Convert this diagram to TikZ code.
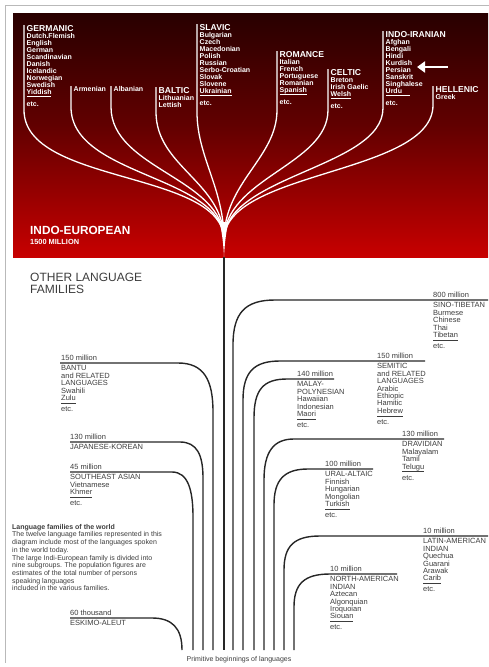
\documentclass[tikz,border=0pt]{standalone}
\usepackage{fontspec}
\setmainfont{Liberation Sans}
\usepackage{tikz}
\usetikzlibrary{arrows.meta}

\definecolor{panelred}{RGB}{232,0,0}
\definecolor{inkgray}{RGB}{60,60,60}
\pgfdeclareverticalshading{iepanel}{100bp}{color(0bp)=(panelred); color(25bp)=(panelred!86!black); color(52bp)=(panelred!42!black); color(78bp)=(panelred!14!black); color(93bp)=(black); color(100bp)=(black)}

\newcommand{\ietitle}{\fontsize{8.6}{8.6}\selectfont}
\newcommand{\dotul}[1]{\setbox0=\hbox{#1}\leavevmode\rlap{\raisebox{-2.6pt}{\hbox to \wd0{\leaders\hbox to 0.9pt{\hss\rule{0.45pt}{0.4pt}\hss}\hfill}}}\box0}

\begin{document}
\begin{tikzpicture}[x=1pt, y=-1pt,
	ie/.style={anchor=north west, inner xsep=2.5pt, inner ysep=0pt, text=white, align=left, font=\bfseries\fontsize{7}{7}\selectfont},
	branch/.style={white, line width=1.3pt},
	fam/.style={anchor=north west, inner sep=0pt, text=inkgray, align=left, font=\fontsize{7.5}{7.4}\selectfont},
	amount/.style={anchor=south west, inner sep=0pt, text=inkgray, font=\fontsize{7.5}{7.5}\selectfont},
	famline/.style={draw=black!85, line width=1.4pt}]
	\useasboundingbox (0,0) rectangle (489,667);
	\draw[gray!55, line width=0.8pt] (489,5.5) -- (5.5,5.5) -- (5.5,663);
	\shade[shading=iepanel] (13,13) rectangle (488,257);

	% indo-european
	\node[ie] (germanic) at (24,25) {{\ietitle GERMANIC}\\Dutch.Flemish\\English\\German\\Scandinavian\\Danish\\Icelandic\\Norwegian\\Swedish\\\dotul{Yiddish}\\[4pt]etc.};
	\node[ie] (armenian) at (71,86) {Armenian};
	\node[ie] (albanian) at (111,86) {Albanian};
	\node[ie] (baltic) at (156,87) {{\ietitle BALTIC}\\Lithuanian\\Lettish};
	\node[ie] (slavic) at (197,24) {{\ietitle SLAVIC}\\Bulgarian\\Czech\\Macedonian\\Polish\\Russian\\Serbo-Croatian\\Slovak\\Slovene\\\dotul{Ukrainian}\\[4pt]etc.};
	\node[ie] (romance) at (277,51) {{\ietitle ROMANCE}\\Italian\\French\\Portuguese\\Romanian\\\dotul{Spanish}\\[4pt]etc.};
	\node[ie] (celtic) at (328,69) {{\ietitle CELTIC}\\Breton\\Irish Gaelic\\\dotul{Welsh}\\[4pt]etc.};
	\node[ie] (indoiranian) at (383,31) {{\ietitle INDO-IRANIAN}\\Afghan\\Bengali\\Hindi\\Kurdish\\Persian\\Sanskrit\\Singhalese\\\dotul{Urdu\hspace{8pt}}\\[4pt]etc.};
	\node[ie] (hellenic) at (433,86) {{\ietitle HELLENIC}\\Greek};
	\coordinate (trunk) at (224,240);
	\foreach \n/\len/\ca/\cb in {germanic/85/75/70, armenian/21/70/65, albanian/21/62/62, baltic/25/55/58, slavic/88/45/52, romance/59/48/58, celtic/41/55/62, indoiranian/77/60/65, hellenic/19/70/70}
		\draw[branch] (\n.north west) -- ++(0,\len) .. controls +(0,\ca) and +(0,-\cb) .. (trunk);
	\fill[white] (219.5,222) .. controls (222,232) and (223.5,245) .. (224,257) .. controls (224.5,245) and (226,232) .. (228.5,222) -- cycle;
	\coordinate (arrowtail) at (448,67);
	\coordinate (arrowhead) at (417,67);
	\draw[white, line width=2.6pt, -{Triangle[length=8pt,width=11pt]}] (arrowtail) -- (arrowhead);
	\node[anchor=north west, inner sep=0pt, text=white, align=left, font=\bfseries\fontsize{11.8}{10}\selectfont] (indoeuropean) at (30,226) {INDO-EUROPEAN\\{\fontsize{7.4}{7.4}\selectfont 1500 MILLION}};

	% other families
	\node[anchor=north west, inner sep=0pt, text=inkgray, align=left, font=\fontsize{12}{11.6}\selectfont] (others) at (30,273) {OTHER LANGUAGE\\FAMILIES};
	\coordinate (ieroot) at (224,257);
	\coordinate (ieend) at (224,650);
	\draw[famline] (ieroot) -- (ieend);

	\coordinate (rootst) at (233,650);
	\coordinate (endst) at (488,300);
	\draw[famline] (rootst) -- (233,345) .. controls (233,313) and (245,300) .. (275,300) -- (endst);
	\node[amount] (amtst) at (433,297.5) {800 million};
	\node[fam] (st) at (433,302.5) {SINO-TIBETAN\\Burmese\\Chinese\\Thai\\\dotul{Tibetan}\\[2.5pt]etc.};

	\coordinate (rootse) at (243,650);
	\coordinate (endse) at (425,361);
	\draw[famline] (rootse) -- (243,400) .. controls (243,372) and (254,361) .. (280,361) -- (endse);
	\node[amount] (amtse) at (377,358.5) {150 million};
	\node[fam] (se) at (377,363.5) {SEMITIC\\and RELATED\\LANGUAGES\\Arabic\\Ethiopic\\Hamitic\\\dotul{Hebrew}\\[2.5pt]etc.};

	\coordinate (rootmp) at (254,650);
	\coordinate (endmp) at (334,379);
	\draw[famline] (rootmp) -- (254,418) .. controls (254,390) and (263,379) .. (287,379) -- (endmp);
	\node[amount] (amtmp) at (297,376.5) {140 million};
	\node[fam] (mp) at (297,381.5) {MALAY-\\POLYNESIAN\\Hawaiian\\Indonesian\\\dotul{Maori}\\[2.5pt]etc.};

	\coordinate (rootdr) at (264,650);
	\coordinate (enddr) at (444,439);
	\draw[famline] (rootdr) -- (264,480) .. controls (264,451) and (274,439) .. (294,439) -- (enddr);
	\node[amount] (amtdr) at (402,436.5) {130 million};
	\node[fam] (dr) at (402,441.5) {DRAVIDIAN\\Malayalam\\Tamil\\\dotul{Telugu}\\[2.5pt]etc.};

	\coordinate (rootua) at (274,650);
	\coordinate (endua) at (373,469);
	\draw[famline] (rootua) -- (274,505) .. controls (274,480) and (284,469) .. (308,469) -- (endua);
	\node[amount] (amtua) at (325,466.5) {100 million};
	\node[fam] (ua) at (325,471.5) {URAL-ALTAIC\\Finnish\\Hungarian\\Mongolian\\\dotul{Turkish}\\[2.5pt]etc.};

	\coordinate (rootla) at (284,650);
	\coordinate (endla) at (488,536);
	\draw[famline] (rootla) -- (284,570) .. controls (284,546) and (294,536) .. (320,536) -- (endla);
	\node[amount] (amtla) at (423,533.5) {10 million};
	\node[fam] (la) at (423,538.5) {LATIN-AMERICAN\\INDIAN\\Quechua\\Guarani\\Arawak\\\dotul{Carib}\\[2.5pt]etc.};

	\coordinate (rootna) at (294,650);
	\coordinate (endna) at (397,574);
	\draw[famline] (rootna) -- (294,607) .. controls (294,584) and (304,574) .. (330,574) -- (endna);
	\node[amount] (amtna) at (330,571.5) {10 million};
	\node[fam] (na) at (330,576.5) {NORTH-AMERICAN\\INDIAN\\Aztecan\\Algonquian\\Iroquoian\\\dotul{Siouan}\\[2.5pt]etc.};

	\coordinate (rootba) at (213,650);
	\coordinate (endba) at (60,363);
	\draw[famline] (rootba) -- (213,412) .. controls (213,380) and (204,363) .. (178,363) -- (endba);
	\node[amount] (amtba) at (61,360.5) {150 million};
	\node[fam] (ba) at (61,365.5) {BANTU\\and RELATED\\LANGUAGES\\Swahili\\\dotul{Zulu}\\[2.5pt]etc.};

	\coordinate (rootjk) at (203,650);
	\coordinate (endjk) at (70,442);
	\draw[famline] (rootjk) -- (203,478) .. controls (203,455) and (197,442) .. (180,442) -- (endjk);
	\node[amount] (amtjk) at (70,439.5) {130 million};
	\node[fam] (jk) at (70,444.5) {JAPANESE-KOREAN};

	\coordinate (rootsa) at (193,650);
	\coordinate (endsa) at (70,472);
	\draw[famline] (rootsa) -- (193,517) .. controls (193,490) and (188,472) .. (172,472) -- (endsa);
	\node[amount] (amtsa) at (70,469.5) {45 million};
	\node[fam] (sa) at (70,474.5) {SOUTHEAST ASIAN\\Vietnamese\\\dotul{Khmer}\\[2.5pt]etc.};

	\coordinate (rootea) at (182,650);
	\coordinate (endea) at (70,618);
	\draw[famline] (rootea) .. controls (182,628) and (172,618) .. (152,618) -- (endea);
	\node[amount] (amtea) at (70,615.5) {60 thousand};
	\node[fam] (ea) at (70,620.5) {ESKIMO-ALEUT};

	\node[anchor=north west, inner sep=0pt, text=inkgray, align=left, font=\fontsize{7}{7.7}\selectfont] (about) at (12,524) {{\bfseries Language families of the world}\\The twelve language families represented in this\\diagram include most of the languages spoken\\in the world today.\\The large Indi-European family is divided into\\nine subgroups. The population figures are\\estimates of the total number of persons\\speaking languages\\included in the various families.};
	\node[text=inkgray, inner sep=0pt, font=\fontsize{7}{7}\selectfont] (primitive) at (239,660) {Primitive beginnings of languages};
\end{tikzpicture}
\end{document}
